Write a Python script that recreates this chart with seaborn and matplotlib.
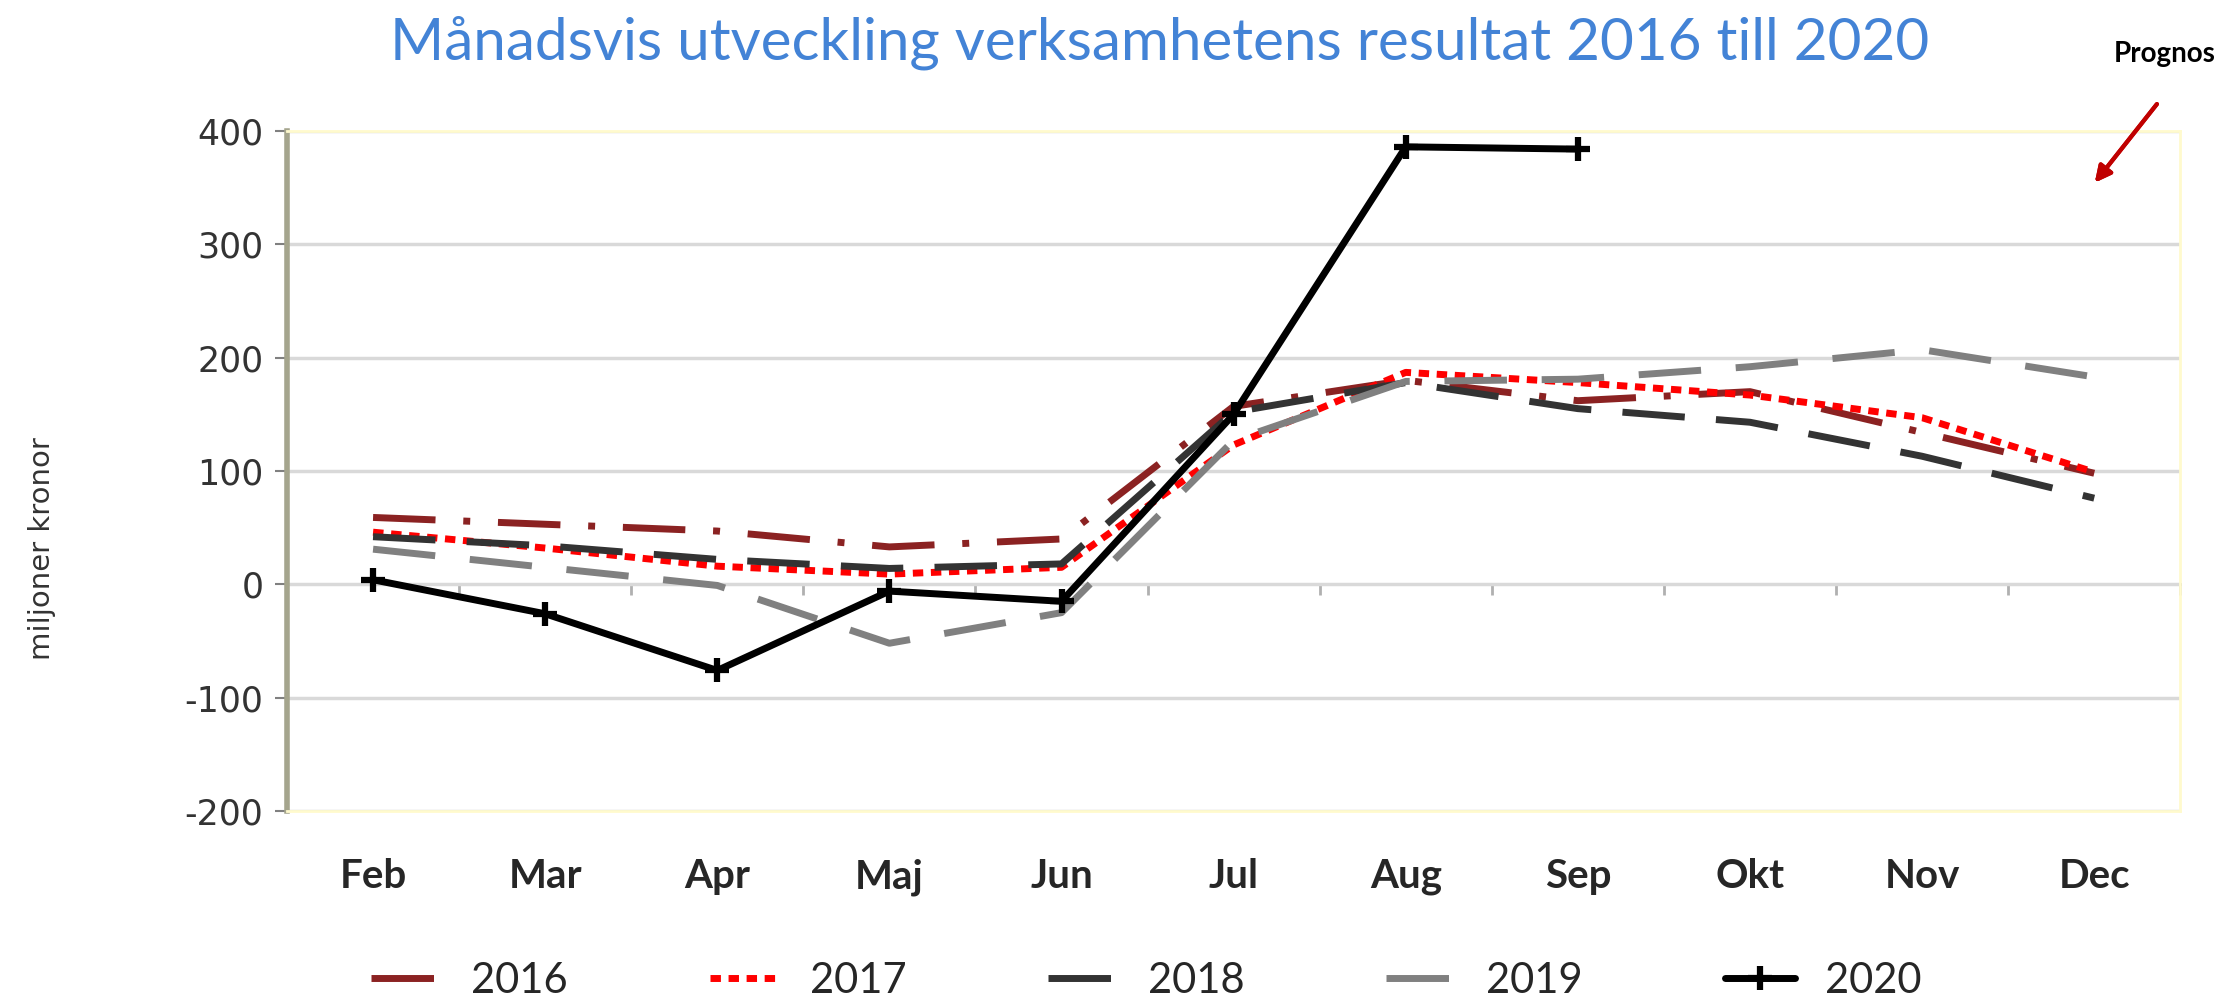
import numpy as np
import pandas as pd
import seaborn as sns
import matplotlib.pyplot as plt

# values (miljoner kronor)
months = ["Feb", "Mar", "Apr", "Maj", "Jun", "Jul", "Aug", "Sep", "Okt", "Nov", "Dec"]
r2016 = [59, 53, 47, 33, 40, 157, 180, 162, 170, 134, 98]
r2017 = [46, 32, 16, 9, 15, 123, 187, 178, 167, 147, 99]
r2018 = [42, 34, 22, 14, 18, 152, 178, 155, 143, 113, 76]
r2019 = [31, 15, -1, -52, -25, 127, 179, 181, 192, 207, 183]
r2020 = [4, -26, -76, -6, -15, 150, 386, 384]
years = ["2016", "2017", "2018", "2019", "2020"]
yticks = [-200, -100, 0, 100, 200, 300, 400]

series = dict(zip(years, [r2016, r2017, r2018, r2019, r2020]))

sns.set_theme(style="white")
narrow = ["Lato", "DejaVu Sans"]
plt.rcParams["font.family"] = narrow
plt.rcParams["axes.unicode_minus"] = False

styles = {
    "2016": dict(color="#8b2222", linestyle=(0, (9, 4, 1, 4))),
    "2017": dict(color="#ff0000", linestyle=(0, (1.5, 1.1))),
    "2018": dict(color="#333333", linestyle=(0, (9, 4.5))),
    "2019": dict(color="#808080", linestyle=(0, (9, 5))),
    "2020": dict(color="black", linestyle="-", marker="+", markersize=17,
                 markeredgewidth=4.5, markeredgecolor="black"),
}

fig = plt.figure(figsize=(22.3, 9.99), dpi=100)
ax = fig.add_axes([0.1287, 0.1882, 0.849, 0.6807])

for yr in years:
    vals = series[yr]
    sns.lineplot(x=months[:len(vals)], y=vals, ax=ax, lw=5, label=yr, sort=False, **styles[yr])

ax.set_xlim(-0.5, 10.5)
ax.set_ylim(-200, 400)
ax.set_yticks(yticks)
ax.set_xlabel("")
ax.set_ylabel("")
ax.grid(axis="y", color="#d9d9d9", lw=2.5)
ax.grid(axis="x", visible=False)
ax.set_axisbelow(True)

ax.tick_params(axis="y", left=True, length=9, width=1.5, color="#808080",
               labelsize=25, labelcolor="#333333", pad=8)
for lbl in ax.get_yticklabels():
    lbl.set_family("DejaVu Sans")
ax.tick_params(axis="x", bottom=False, length=0, pad=34, labelsize=29)
for lbl in ax.get_xticklabels():
    lbl.set_fontweight("bold")

ax.spines["left"].set_color("#a5a58d")
ax.spines["left"].set_linewidth(4)
for side in ["top", "right", "bottom"]:
    ax.spines[side].set_color("#fffacd")
    ax.spines[side].set_linewidth(2)

# zero line with category boundary ticks
zero = ax.secondary_xaxis((0 - yticks[0]) / (yticks[-1] - yticks[0]))
zero.set_xticks(np.arange(-0.5, len(months), 1.0))
zero.tick_params(length=8, width=2, color="#b0b0b0", labelbottom=False, labeltop=False)
for side in ["top", "bottom"]:
    zero.spines[side].set_color("#808080")
    zero.spines[side].set_linewidth(2)

handles, labels = ax.get_legend_handles_labels()
ax.get_legend().remove()
fig.legend(handles, labels, loc="center", bbox_to_anchor=(0.514, 0.018), ncol=5,
           frameon=False, fontsize=30, handlelength=1.7, handletextpad=0.7,
           columnspacing=3.4)

fig.text(0.52, 0.957, "Månadsvis utveckling verksamhetens resultat 2016 till 2020",
         ha="center", va="center", fontsize=42, color="#4383d6")
fig.text(0.019, 0.451, "miljoner kronor", rotation=90, ha="center", va="center",
         fontsize=21, color="#333333", family="DejaVu Sans")
fig.text(0.948, 0.946, "Prognos", ha="left", va="center", fontsize=20,
         fontweight="bold", color="black")
fig.add_artist(plt.annotate("", xy=(0.9386, 0.815), xytext=(0.968, 0.898),
                            xycoords="figure fraction", textcoords="figure fraction",
                            arrowprops=dict(arrowstyle="-|>,head_length=0.8,head_width=0.4",
                                            color="#c00000", lw=3)))

fig.savefig("out.png", dpi=100)
